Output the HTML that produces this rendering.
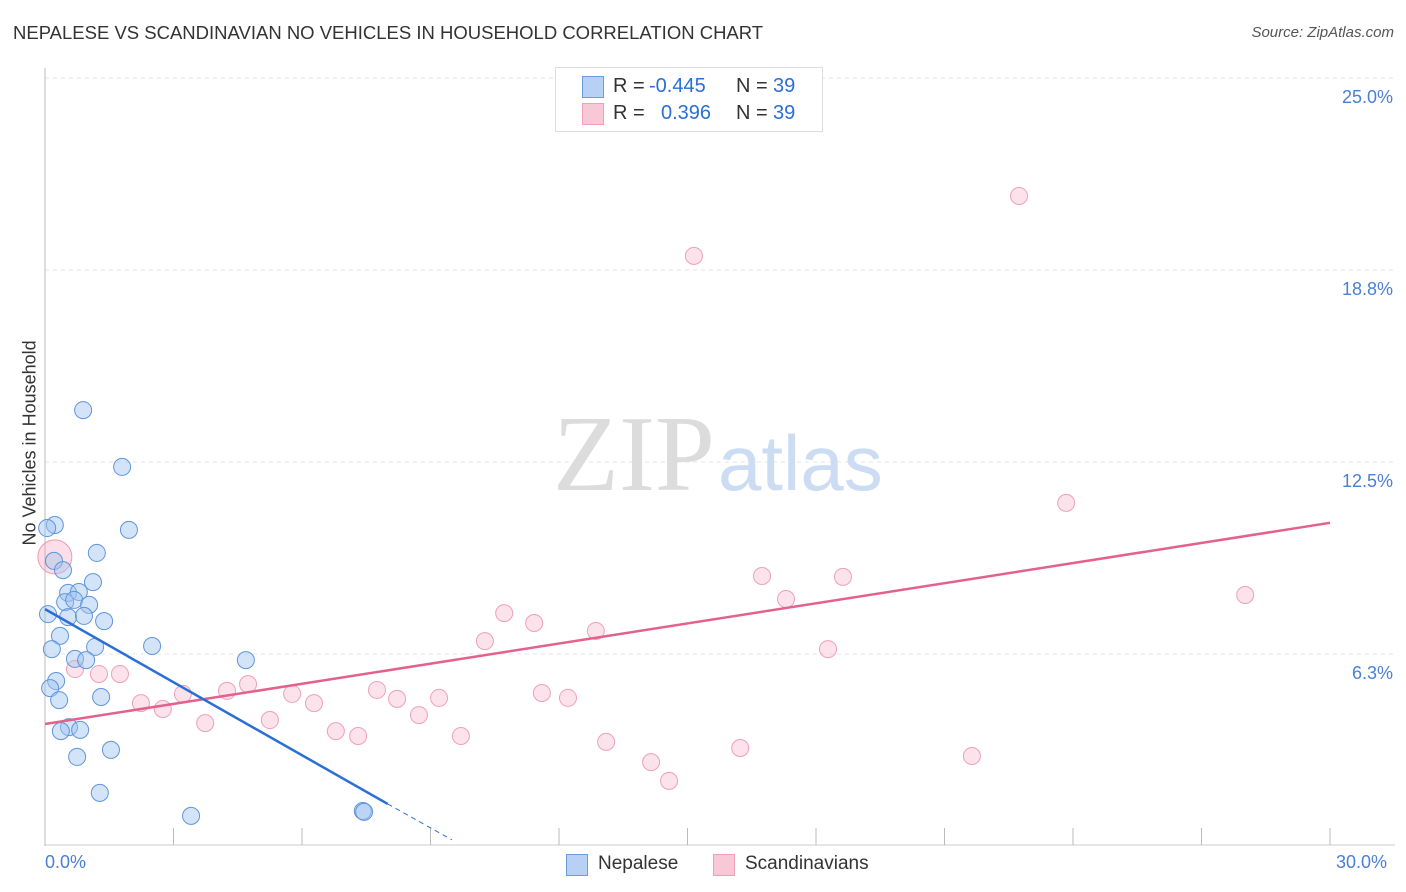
<!DOCTYPE html>
<html><head><meta charset="utf-8">
<style>
body{margin:0;background:#fff;font-family:"Liberation Sans",sans-serif;}
#wrap{position:relative;width:1406px;height:892px;overflow:hidden;}
.t{position:absolute;white-space:nowrap;}
</style></head><body>
<div id="wrap">
<div class="t" style="left:13px;top:22px;font-size:18.5px;color:#333;">NEPALESE VS SCANDINAVIAN NO VEHICLES IN HOUSEHOLD CORRELATION CHART</div>
<div class="t" style="right:12px;top:24px;font-size:15px;color:#555;font-style:italic;">Source: ZipAtlas.com</div>
<svg id="svg" width="1406" height="892" style="position:absolute;left:0;top:0"></svg>
</div>
<script>
const blueX=[0.89,1.80,0.23,0.05,1.96,1.21,0.21,0.42,1.12,0.54,0.79,0.47,0.68,1.03,0.54,0.91,1.38,0.07,0.35,2.50,1.17,0.16,0.70,0.96,4.69,0.26,0.12,1.31,0.33,0.56,0.37,0.82,1.54,0.75,1.28,3.41,7.42,7.45];
const blueY=[14.19,12.34,10.45,10.35,10.29,9.54,9.28,8.98,8.59,8.24,8.27,7.94,8.01,7.85,7.45,7.49,7.32,7.55,6.84,6.51,6.48,6.41,6.09,6.05,6.05,5.37,5.14,4.85,4.75,3.87,3.74,3.78,3.13,2.90,1.73,0.98,1.14,1.11];
const pinkX=[22.74,15.15,23.84,16.74,18.63,28.02,17.30,10.72,11.42,12.86,10.27,18.28,0.70,1.26,1.75,4.74,4.25,3.22,5.77,7.75,2.24,2.75,8.22,9.20,11.60,12.21,6.28,5.25,3.74,8.73,6.79,7.31,9.71,13.10,16.23,14.15,14.57,21.64];
const pinkY=[21.16,19.21,11.17,8.79,8.76,8.17,8.04,7.58,7.26,7.00,6.67,6.41,5.76,5.60,5.60,5.27,5.05,4.95,4.95,5.08,4.65,4.46,4.79,4.82,4.98,4.82,4.65,4.10,4.00,4.26,3.74,3.58,3.58,3.39,3.19,2.73,2.12,2.93];
const bigPink=[0.23,9.41];
const blueTrend=[[0,7.71],[8.0,1.37],[9.5,0.2]];
const pinkTrend=[[0,3.97],[30,10.52]];
const yTicks=[6.25,12.5,18.75,25];
const yTickLabels=["6.3%","12.5%","18.8%","25.0%"];
const xTicks=[0,3,6,9,12,15,18,21,24,27,30];

const X0=45,X1=1330,YB=846,YPer=192/6.25;
const sx=v=>X0+(v/30)*(X1-X0);
const sy=v=>YB-v*YPer;
const svg=document.getElementById('svg');
const NS='http://www.w3.org/2000/svg';
function mk(tag,attrs){const e=document.createElementNS(NS,tag);for(const k in attrs)e.setAttribute(k,attrs[k]);svg.appendChild(e);return e;}

yTicks.forEach((v,i)=>{
  const g=mk('line',{x1:X0,x2:1395,y1:sy(v),y2:sy(v),stroke:'#e6e6e6','stroke-dasharray':'4,4'});
  
  
  const t=mk('text',{x:1393,y:sy(v)+25,'text-anchor':'end','font-size':18,fill:'#4a7fd6','font-family':'Liberation Sans, sans-serif'});
  t.textContent=yTickLabels[i];
  
  
});
const ax=mk('line',{x1:X0,x2:X0,y1:68,y2:846,stroke:'#bbb'});


const bx=mk('line',{x1:X0,x2:1395,y1:845,y2:845,stroke:'#ccc'});


xTicks.forEach(v=>{
  const l=mk('line',{x1:sx(v),x2:sx(v),y1:828,y2:845,stroke:'#bbb'});
  
  
});
const w1=mk('text',{x:553,y:490,'font-size':108,fill:'#dcdcdc','font-family':'Liberation Serif, serif'});w1.textContent='ZIP';


const w2=mk('text',{x:718,y:490,'font-size':78,fill:'#ccdcf3','font-family':'Liberation Sans, sans-serif'});w2.textContent='atlas';



const bp=mk('circle',{cx:sx(bigPink[0]),cy:sy(bigPink[1]),r:17,fill:'rgba(244,160,185,0.35)',stroke:'#ef9ab5','stroke-width':1});


pinkX.forEach((x,i)=>{
  const c=mk('circle',{cx:sx(x),cy:sy(pinkY[i]),r:8.5,fill:'rgba(248,185,205,0.4)',stroke:'#eea0b9','stroke-width':1});
  
  
});
blueX.forEach((x,i)=>{
  const c=mk('circle',{cx:sx(x),cy:sy(blueY[i]),r:8.5,fill:'rgba(160,195,240,0.45)',stroke:'#5f95dd','stroke-width':1});
  
  
});
const pl=mk('line',{x1:sx(pinkTrend[0][0]),y1:sy(pinkTrend[0][1]),x2:sx(pinkTrend[1][0]),y2:sy(pinkTrend[1][1]),stroke:'#e4618d','stroke-width':2.5});


const bl=mk('line',{x1:sx(blueTrend[0][0]),y1:sy(blueTrend[0][1]),x2:sx(blueTrend[1][0]),y2:sy(blueTrend[1][1]),stroke:'#2a6fd6','stroke-width':2.5});


const bd=mk('line',{x1:sx(blueTrend[1][0]),y1:sy(blueTrend[1][1]),x2:sx(blueTrend[2][0]),y2:sy(blueTrend[2][1]),stroke:'#2a6fd6','stroke-width':1,'stroke-dasharray':'5,4'});


</script>
<div class="t" style="left:-60px;top:445px;transform:rotate(-90deg);font-size:18px;color:#333;width:180px;text-align:center;">No Vehicles in Household</div>
<div class="t" style="left:45px;top:852px;font-size:18px;color:#4a7fd6;">0.0%</div>
<div class="t" style="left:1336px;top:852px;font-size:18px;color:#4a7fd6;">30.0%</div>
<div style="position:absolute;left:555px;top:67px;width:266px;height:63px;border:1px solid #ddd;background:#fff;font-size:20px;color:#333;">
 <div style="position:absolute;left:26px;top:8px;width:20px;height:20px;background:#b7d0f3;border:1px solid #6a9ce0;"></div>
 <div class="t" style="left:57px;top:7px;">R =</div>
 <div class="t" style="left:93px;top:7px;color:#2a6fd6">-0.445</div>
 <div class="t" style="left:180px;top:7px;">N =</div>
 <div class="t" style="left:217px;top:7px;color:#2a6fd6">39</div>
 <div style="position:absolute;left:26px;top:35px;width:20px;height:20px;background:#f9c8d6;border:1px solid #eea0b9;"></div>
 <div class="t" style="left:57px;top:34px;">R =</div>
 <div class="t" style="left:105px;top:34px;color:#2a6fd6">0.396</div>
 <div class="t" style="left:180px;top:34px;">N =</div>
 <div class="t" style="left:217px;top:34px;color:#2a6fd6">39</div>
</div>
<div style="position:absolute;left:566px;top:854px;width:20px;height:20px;background:#b7d0f3;border:1px solid #6a9ce0;"></div>
<div class="t" style="left:598px;top:853px;font-size:19px;color:#333;">Nepalese</div>
<div style="position:absolute;left:713px;top:854px;width:20px;height:20px;background:#f9c8d6;border:1px solid #eea0b9;"></div>
<div class="t" style="left:745px;top:853px;font-size:19px;color:#333;">Scandinavians</div>
</body></html>
